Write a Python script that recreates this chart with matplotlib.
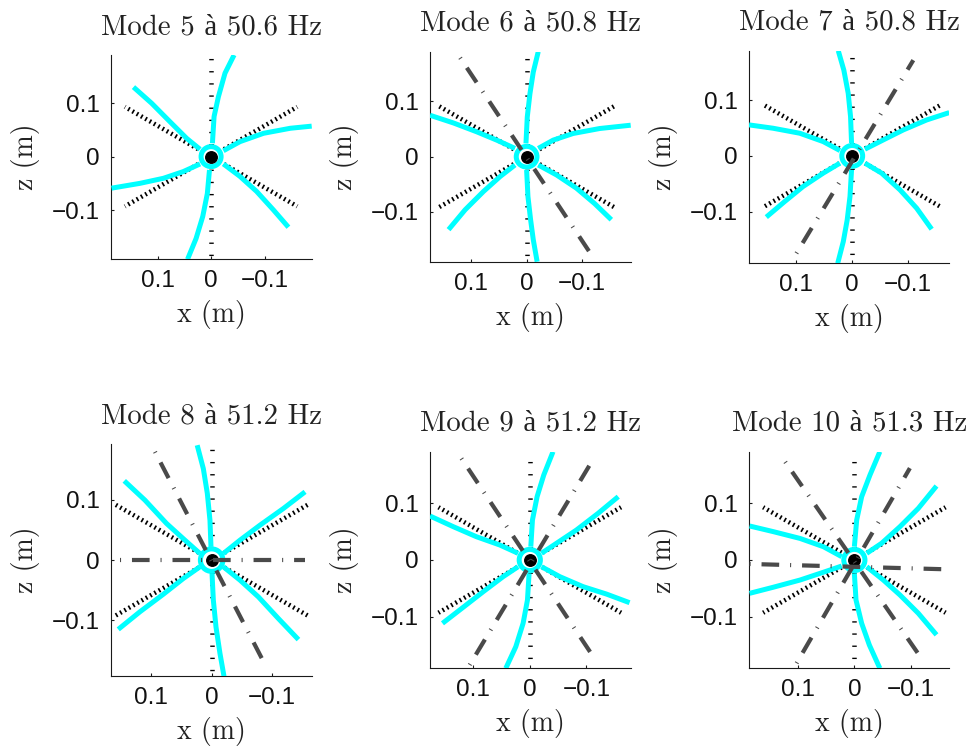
import matplotlib
matplotlib.use("Agg")
import matplotlib.pyplot as plt
from matplotlib.patches import Circle

# ---------------- data ----------------
modes = [5, 6, 7, 8, 9, 10]
freqs = ["50.6", "50.8", "50.8", "51.2", "51.2", "51.3"]

tick_vals = [0.1, 0.0, -0.1]
tick_labels = ["0.1", "0", "\u22120.1"]

# undeformed blade tips (m): up, upper-left, lower-left, down, lower-right, upper-right
rest_x = [0.0, 0.161, 0.161, 0.0, -0.161, -0.161]
rest_z = [0.185, 0.093, -0.093, -0.185, -0.093, 0.093]

hub_x = [0.0]
hub_z = [0.0]
hub_radius = 0.0187

# deformed blades (6 blades x 5 points), order: up, UL, LL, down, LR, UR
m5_x = [[-0.0025, -0.0056, -0.0137, -0.026, -0.043],
        [0.0206, 0.0455, 0.0766, 0.111, 0.145],
        [0.0206, 0.052, 0.089, 0.133, 0.186],
        [0.003, 0.007, 0.0156, 0.028, 0.044],
        [-0.023, -0.054, -0.085, -0.1165, -0.1445],
        [-0.023, -0.054, -0.098, -0.148, -0.188]]
m5_z = [[0.025, 0.075, 0.112, 0.156, 0.190],
        [0.0137, 0.034, 0.065, 0.0997, 0.13],
        [-0.0137, -0.028, -0.0405, -0.050, -0.059],
        [-0.025, -0.069, -0.112, -0.153, -0.192],
        [-0.0137, -0.037, -0.065, -0.0997, -0.132],
        [0.011, 0.028, 0.0436, 0.053, 0.057]]

m6_x = [[0.0012, -0.0012, -0.006, -0.012, -0.021],
        [0.021, 0.054, 0.090, 0.132, 0.1745],
        [0.021, 0.048, 0.078, 0.111, 0.141],
        [0.0, -0.0024, -0.0072, -0.012, -0.019],
        [-0.021, -0.054, -0.090, -0.123, -0.153],
        [-0.021, -0.048, -0.084, -0.132, -0.188]]
m6_z = [[0.024, 0.072, 0.114, 0.153, 0.19],
        [0.015, 0.030, 0.045, 0.061, 0.075],
        [-0.015, -0.036, -0.063, -0.096, -0.132],
        [-0.024, -0.072, -0.114, -0.150, -0.19],
        [-0.015, -0.033, -0.057, -0.085, -0.114],
        [0.015, 0.030, 0.042, 0.051, 0.057]]

m7_x = [[0.0012, 0.003, 0.0072, 0.015, 0.025],
        [0.022, 0.052, 0.094, 0.142, 0.185],
        [0.022, 0.052, 0.088, 0.121, 0.154],
        [0.0012, 0.004, 0.009, 0.016, 0.026],
        [-0.0227, -0.0527, -0.0856, -0.1155, -0.1424],
        [-0.0227, -0.0557, -0.0916, -0.1335, -0.174]]
m7_z = [[0.023, 0.0706, 0.1125, 0.154, 0.189],
        [0.0096, 0.0257, 0.0407, 0.0497, 0.0557],
        [-0.013, -0.031, -0.055, -0.082, -0.110],
        [-0.025, -0.073, -0.115, -0.154, -0.193],
        [-0.013, -0.031, -0.061, -0.094, -0.1317],
        [0.012, 0.0287, 0.0467, 0.0646, 0.0778]]

m8_x = [[0.0011, 0.0028, 0.0072, 0.0138, 0.024],
        [0.0194, 0.0443, 0.0748, 0.1107, 0.145],
        [0.0194, 0.047, 0.080, 0.119, 0.155],
        [-0.0006, -0.0028, -0.0072, -0.0138, -0.0205],
        [-0.0194, -0.047, -0.0775, -0.1107, -0.144],
        [-0.0194, -0.047, -0.080, -0.119, -0.155]]
m8_z = [[0.022, 0.0664, 0.111, 0.152, 0.191],
        [0.011, 0.0332, 0.0609, 0.0997, 0.1318],
        [-0.011, -0.0305, -0.0565, -0.0858, -0.115],
        [-0.022, -0.0664, -0.111, -0.155, -0.193],
        [-0.011, -0.0332, -0.061, -0.097, -0.132],
        [0.011, 0.0332, 0.058, 0.0858, 0.1135]]

m9_x = [[-0.0018, -0.0047, -0.0129, -0.0247, -0.041],
        [0.0206, 0.053, 0.094, 0.135, 0.176],
        [0.0206, 0.047, 0.082, 0.1176, 0.154],
        [0.0012, 0.0041, 0.0118, 0.0247, 0.0423],
        [-0.0206, -0.053, -0.094, -0.135, -0.176],
        [-0.0206, -0.047, -0.0823, -0.1205, -0.156]]
m9_z = [[0.0235, 0.0705, 0.1117, 0.150, 0.191],
        [0.0118, 0.0265, 0.041, 0.0588, 0.0776],
        [-0.0118, -0.0294, -0.0558, -0.0835, -0.1117],
        [-0.0235, -0.0705, -0.1117, -0.153, -0.191],
        [-0.0118, -0.0294, -0.047, -0.060, -0.0753],
        [0.0118, 0.0294, 0.0529, 0.0823, 0.1117]]

m10_x = [[0.0, -0.0041, -0.0129, -0.0276, -0.045],
         [0.0223, 0.0547, 0.0958, 0.143, 0.185],
         [0.0223, 0.0517, 0.0958, 0.143, 0.185],
         [0.0, -0.0029, -0.0129, -0.0265, -0.045],
         [-0.0218, -0.0511, -0.0805, -0.1129, -0.145],
         [-0.0218, -0.048, -0.0805, -0.1129, -0.145]]
m10_z = [[0.0235, 0.0705, 0.1117, 0.150, 0.191],
         [0.0059, 0.0235, 0.038, 0.050, 0.060],
         [-0.0106, -0.0206, -0.0353, -0.048, -0.0588],
         [-0.0235, -0.0705, -0.1117, -0.150, -0.191],
         [-0.0118, -0.0353, -0.0617, -0.094, -0.132],
         [0.0118, 0.0294, 0.0588, 0.0911, 0.1305]]

# nodal lines (pairs of end points)
n5_x, n5_z = [], []
n6_x = [[0.120, -0.117]]
n6_z = [[0.179, -0.1775]]
n7_x = [[0.100, -0.1095]]
n7_z = [[-0.175, 0.172]]
n8_x = [[0.094, -0.087], [0.152, -0.155]]
n8_z = [[0.180, -0.1705], [0.0, 0.0]]
n9_x = [[0.1205, -0.112], [0.106, -0.109]]
n9_z = [[0.179, -0.1705], [-0.185, 0.173]]
n10_x = [[0.122, -0.116], [0.102, -0.098], [0.185, -0.166]]
n10_z = [[0.173, -0.170], [-0.182, 0.162], [-0.007, -0.0165]]

blades_x = [m5_x, m6_x, m7_x, m8_x, m9_x, m10_x]
blades_z = [m5_z, m6_z, m7_z, m8_z, m9_z, m10_z]
nodal_x = [n5_x, n6_x, n7_x, n8_x, n9_x, n10_x]
nodal_z = [n5_z, n6_z, n7_z, n8_z, n9_z, n10_z]

# ---------------- layout (pixels) ----------------
W, H = 970, 747
boxes = [(111, 55, 311.7, 259.3), (430, 51.7, 630.7, 261.7), (749, 50.7, 949.3, 263.3),
         (111, 444, 311.7, 675.7), (430, 451.7, 630.7, 668.3), (749, 451.7, 949.3, 668.3)]
xlims = [(0.187, -0.188), (0.1745, -0.188), (0.185, -0.174),
         (0.167, -0.166), (0.176, -0.178), (0.186, -0.1676)]
ylims = [(-0.192, 0.190), (-0.19, 0.19), (-0.193, 0.189),
         (-0.192, 0.193), (-0.191, 0.191), (-0.191, 0.191)]

serif = ["cmr10", "Liberation Serif"]
sans = ["Liberation Sans", "DejaVu Sans"]
plt.rcParams["axes.unicode_minus"] = True

CYAN = "#00ffff"
NODAL = "#4a4a4a"
TXT = "#222222"
px = 72.0 / 100.0  # points per pixel

fig = plt.figure(figsize=(W / 100, H / 100), dpi=100)

rest_styles = []
for bx, bz in zip(rest_x, rest_z):
    if bx == 0.0:
        rest_styles.append((0, (0.3, 2.4)))
    else:
        rest_styles.append((0, (0.38, 0.72)))

for i in range(6):
    l, t, r, b = boxes[i]
    ax = fig.add_axes([l / W, 1 - b / H, (r - l) / W, (b - t) / H])
    ax.set_xlim(*xlims[i])
    ax.set_ylim(*ylims[i])

    # undeformed blades (dotted)
    for bx, bz, st in zip(rest_x, rest_z, rest_styles):
        ax.plot([0.0, bx], [0.0, bz], color="black", lw=4.5 * px,
                linestyle=st, dash_capstyle="butt", zorder=2)

    # deformed blades
    for bx, bz in zip(blades_x[i], blades_z[i]):
        ax.plot(bx, bz, color=CYAN, lw=5 * px, solid_capstyle="butt",
                solid_joinstyle="round", zorder=3)

    # hub
    ax.add_patch(Circle((hub_x[0], hub_z[0]), hub_radius, facecolor="white",
                        edgecolor=CYAN, lw=5 * px, zorder=4))
    ax.plot(hub_x, hub_z, "o", color="black", ms=11.5 * px, zorder=5)

    # nodal lines
    for nx, nz in zip(nodal_x[i], nodal_z[i]):
        ax.plot(nx, nz, color=NODAL, lw=4.2 * px,
                linestyle=(0, (0.25, 2.6, 4.2, 2.6)),
                dash_capstyle="butt", zorder=6)

    for s in ["top", "right"]:
        ax.spines[s].set_visible(False)
    for s in ["left", "bottom"]:
        ax.spines[s].set_color("#1a1a1a")
        ax.spines[s].set_linewidth(0.8)

    ax.set_xticks(tick_vals)
    ax.set_xticklabels(tick_labels, fontfamily=sans, fontsize=17.5)
    ax.set_yticks(tick_vals)
    ax.set_yticklabels(tick_labels, fontfamily=sans, fontsize=17.5)
    ax.tick_params(direction="in", length=2.5, width=0.8, color="#1a1a1a",
                   labelcolor="#111111")
    ax.tick_params(axis="x", pad=8)
    ax.tick_params(axis="y", pad=8)

    ax.set_title(f"Mode {modes[i]} à {freqs[i]} Hz", fontfamily=serif,
                 fontsize=20.8, color=TXT, pad=15)
    ax.set_xlabel("x (m)", fontfamily=serif, fontsize=20, color=TXT)
    ax.set_ylabel("z (m)", fontfamily=serif, fontsize=20, color=TXT)
    wpx, hpx = r - l, b - t
    ax.xaxis.set_label_coords(0.5, -63.0 / hpx)
    ax.xaxis.label.set_va("baseline")
    ax.yaxis.set_label_coords(-71.0 / wpx, 0.5)

fig.savefig("out.png", dpi=100)
